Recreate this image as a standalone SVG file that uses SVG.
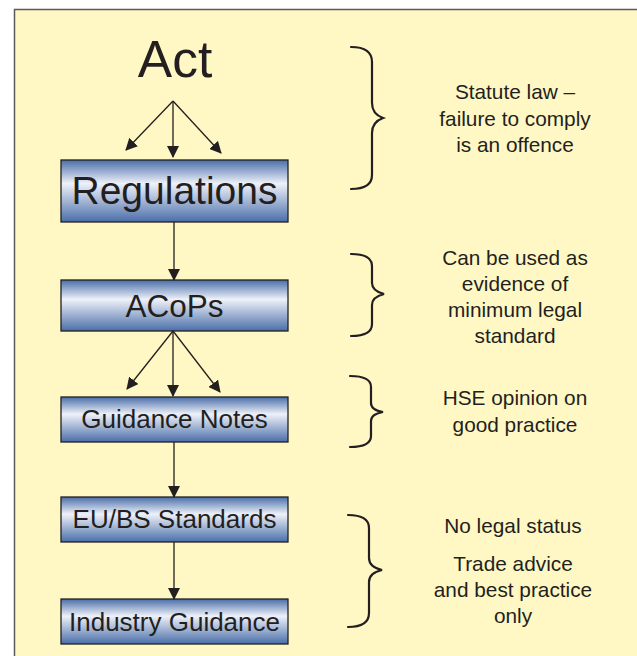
<svg xmlns="http://www.w3.org/2000/svg" width="637" height="656" viewBox="0 0 637 656">
<defs>
<linearGradient id="boxg" x1="0" y1="0" x2="0" y2="1">
<stop offset="0" stop-color="#4a6ea9"/>
<stop offset="0.38" stop-color="#eef1f9"/>
<stop offset="1" stop-color="#4a6ea9"/>
</linearGradient>
<marker id="ah" viewBox="0 0 12 12" refX="11" refY="6" markerWidth="12" markerHeight="12" markerUnits="userSpaceOnUse" orient="auto">
<path d="M0,0 L12,6 L0,12 Z" fill="#231f20"/>
</marker>
</defs>
<style>
.box{fill:url(#boxg);stroke:#231f20;stroke-width:1.3}
.lbl{font-family:"Liberation Sans",Arial,sans-serif;fill:#231f20;text-anchor:middle}
.note{font-family:"Liberation Sans",Arial,sans-serif;fill:#231f20;text-anchor:middle;font-size:20.8px}
.conn{stroke:#231f20;stroke-width:1.3;fill:none;marker-end:url(#ah)}
.brace{stroke:#231f20;stroke-width:2.2;fill:none;stroke-linecap:round}
</style>
<rect x="0" y="0" width="637" height="656" fill="#ffffff"/>
<rect x="14.5" y="9.5" width="640" height="660" fill="#fff8c4" stroke="#5a5a5a" stroke-width="1.5"/>

<g id="act"><text class="lbl" x="175" y="77" font-size="51.5">Act</text></g>
<g id="regulations"><rect class="box" x="61" y="160" width="227" height="62"/><text class="lbl" x="174.5" y="204" font-size="39">Regulations</text></g>
<g id="acops"><rect class="box" x="61" y="280" width="227" height="51"/><text class="lbl" x="174.5" y="317" font-size="31.5">ACoPs</text></g>
<g id="guidance"><rect class="box" x="61" y="397" width="227" height="45"/><text class="lbl" x="174.5" y="428" font-size="26">Guidance Notes</text></g>
<g id="eubs"><rect class="box" x="61" y="497" width="227" height="45"/><text class="lbl" x="174.5" y="528" font-size="26">EU/BS Standards</text></g>
<g id="industry"><rect class="box" x="61" y="599" width="227" height="45"/><text class="lbl" x="174.5" y="631" font-size="26">Industry Guidance</text></g>

<g id="connectors">
<line class="conn" x1="173" y1="101" x2="126" y2="150"/>
<line class="conn" x1="173" y1="101" x2="173" y2="157"/>
<line class="conn" x1="173" y1="101" x2="221" y2="153"/>
<line class="conn" x1="174" y1="222" x2="174" y2="280"/>
<line class="conn" x1="173" y1="331" x2="127" y2="389"/>
<line class="conn" x1="173" y1="331" x2="173" y2="396"/>
<line class="conn" x1="173" y1="331" x2="220" y2="392"/>
<line class="conn" x1="174" y1="442" x2="174" y2="497"/>
<line class="conn" x1="174" y1="542" x2="174" y2="599"/>
</g>

<g id="brace1"><path class="brace" d="M351,47 Q372,47 372,62 L372,103 Q372,114 383,118 Q372,122 372,133 L372,175 Q372,189 351,189"/>
<text class="note" x="515" y="99">Statute law –</text><text class="note" x="515" y="126">failure to comply</text><text class="note" x="515" y="152">is an offence</text></g>
<g id="brace2"><path class="brace" d="M351,254 Q372,254 372,266 L372,283 Q372,291 384,294 Q372,297 372,305 L372,324 Q372,336 351,336"/>
<text class="note" x="515" y="265">Can be used as</text><text class="note" x="515" y="291">evidence of</text><text class="note" x="515" y="317">minimum legal</text><text class="note" x="515" y="343">standard</text></g>
<g id="brace3"><path class="brace" d="M350,376 Q371,376 371,387 L371,403 Q371,410 383,412 Q371,414 371,421 L371,436 Q371,447 350,447"/>
<text class="note" x="515" y="405">HSE opinion on</text><text class="note" x="515" y="432">good practice</text></g>
<g id="brace4"><path class="brace" d="M348,515 Q369,515 369,528 L369,558 Q369,567 382,570 Q369,573 369,582 L369,613 Q369,627 348,627"/>
<text class="note" x="513" y="533">No legal status</text><text class="note" x="513" y="571">Trade advice</text><text class="note" x="513" y="597">and best practice</text><text class="note" x="513" y="623">only</text></g>
</svg>
